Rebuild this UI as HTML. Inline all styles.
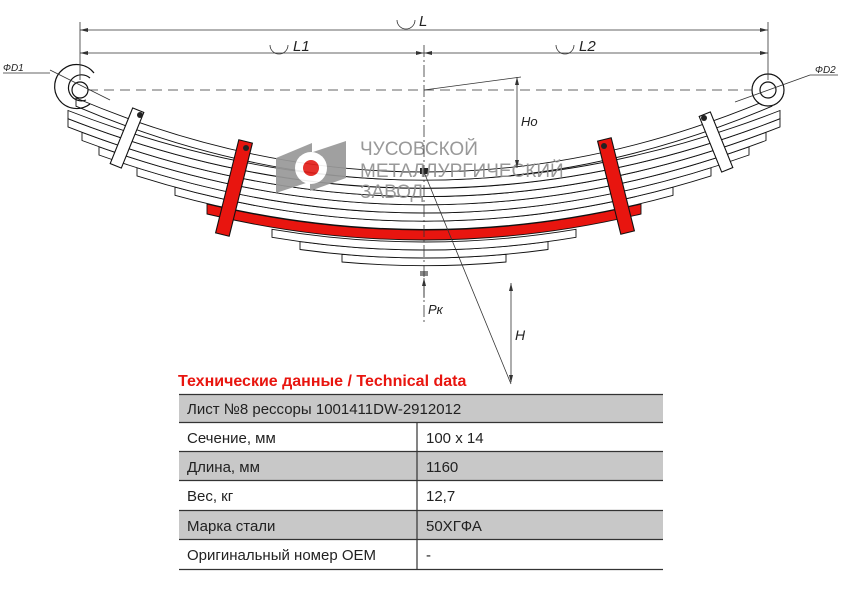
<!DOCTYPE html>
<html><head><meta charset="utf-8"><style>
html,body{margin:0;padding:0;background:#fff;width:842px;height:595px;overflow:hidden}
svg{position:absolute;left:0;top:0}
</style></head><body>
<svg width="842" height="595" viewBox="0 0 842 595" xmlns="http://www.w3.org/2000/svg" font-family="Liberation Sans, sans-serif">
<!-- leaves -->
<g stroke="#111" stroke-width="0.9" fill="#fff">
<path d="M342 254.3 Q424 261.7 506 254.3 L506 262 Q424 269.4 342 262Z"/>
<path d="M300 241.5 Q424 258.5 548 241.5 L548 249.5 Q424 266.5 300 249.5Z"/>
<path d="M272 229.3 Q424 254.7 576 229.3 L576 237.3 Q424 262.7 272 237.3Z"/>
<path d="M207 204 Q424 256 641 204 L641 214 Q424 266 207 214Z" fill="#e8150f"/>
<path d="M175 187.1 Q424 255.3 673 187.1 L673 195.3 Q424 263.5 175 195.3Z"/>
<path d="M137 167.7 Q424 258.3 711 167.7 L711 175.9 Q424 266.5 137 175.9Z"/>
<path d="M99 146.8 Q424 262.8 749 146.8 L749 155 Q424 271 99 155Z"/>
<path d="M82 132.3 Q424 260.9 766 132.3 L766 140.5 Q424 269.1 82 140.5Z"/>
<path d="M68 118.7 Q424 258.1 780 118.7 L780 126.9 Q424 266.3 68 126.9Z"/>
<path d="M68 110.5 Q424 249.5 780 110.5 L780 118.7 Q424 257.7 68 118.7Z"/>
<path d="M76 98 Q424 246 772 98 L772 106.2 Q424 254.2 76 106.2Z"/>
</g>
<!-- eyes -->
<g stroke="#111" stroke-width="1.2" fill="none">
<path d="M90 104 A22 22 0 1 1 94 73"/>
<path d="M86 100 A13 13 0 1 1 90 78"/>
<circle cx="80" cy="90" r="8"/>
<circle cx="768" cy="90" r="16" fill="#fff"/>
<circle cx="768" cy="90" r="8"/>
</g>
<!-- clamps -->
<g stroke="#111" stroke-width="1.1">
<rect x="-7" y="-48" width="14" height="96" fill="#e8150f" transform="translate(234,188) rotate(14)"/>
<rect x="-7" y="-48" width="14" height="96" fill="#e8150f" transform="translate(616,186) rotate(-14)"/>
<rect x="-6" y="-30" width="12" height="60" fill="#fff" transform="translate(127,138) rotate(22)"/>
<rect x="-6" y="-30" width="12" height="60" fill="#fff" transform="translate(716,142) rotate(-22)"/>
</g>
<g fill="#222"><circle cx="246" cy="148" r="3"/><circle cx="604" cy="146" r="3"/><circle cx="140" cy="115" r="3"/><circle cx="704" cy="118" r="3"/><rect x="420" y="168" width="8" height="6"/><rect x="420" y="271" width="8" height="5" fill="#888"/></g>
<!-- logo -->
<g opacity="0.92">
<polygon points="276,158 312,143 312,181 276,193" fill="#999"/>
<polygon points="310,153 346,141 346,178 310,191" fill="#999"/>
<circle cx="311" cy="168" r="16" fill="#fff"/>
<circle cx="311" cy="168" r="8" fill="#e3201b"/>
</g>
<g fill="#8f8f8f" font-size="19" opacity="0.9">
<text x="360" y="155">ЧУСОВСКОЙ</text>
<text x="360" y="177">МЕТАЛЛУРГИЧЕСКИЙ</text>
<text x="360" y="198">ЗАВОД</text>
</g>
<!-- dimension lines -->
<g stroke="#333" stroke-width="0.8" fill="none">
<line x1="80" y1="22" x2="80" y2="80"/>
<line x1="768" y1="22" x2="768" y2="80"/>
<line x1="80" y1="30" x2="768" y2="30"/>
<line x1="80" y1="53" x2="424" y2="53"/>
<line x1="424" y1="53" x2="768" y2="53"/>
<line x1="88" y1="90" x2="752" y2="90" stroke-dasharray="10,6"/>
<line x1="424" y1="45" x2="424" y2="325" stroke-dasharray="12,3,2,3"/>
<line x1="424" y1="90" x2="521" y2="77"/>
<line x1="517" y1="77" x2="517" y2="168"/>
<line x1="424" y1="172" x2="511" y2="384"/>
<line x1="511" y1="283" x2="511" y2="382"/>
<line x1="50" y1="70" x2="110" y2="100"/>
<line x1="3" y1="73" x2="50" y2="73"/>
<line x1="735" y1="102" x2="810" y2="75"/>
<line x1="810" y1="75" x2="838" y2="75"/>
<line x1="424" y1="278" x2="424" y2="298"/>
<path d="M397 20 A9 9 0 0 0 415 20"/>
<path d="M270 45 A9 9 0 0 0 288 45"/>
<path d="M556 45 A9 9 0 0 0 574 45"/>
</g>
<g fill="#333">
<path d="M80 30 l8 -2 v4z"/><path d="M768 30 l-8 -2 v4z"/>
<path d="M80 53 l8 -2 v4z"/><path d="M424 53 l-8 -2 v4z"/><path d="M424 53 l8 -2 v4z"/><path d="M768 53 l-8 -2 v4z"/>
<path d="M517 168 l-2 -8 h4z"/><path d="M517 77 l-2 8 h4z"/>
<path d="M511 283 l-2 8 h4z"/><path d="M511 383 l-2 -8 h4z"/>
<path d="M424 278 l-2 8 h4z"/>
</g>
<g font-style="italic" font-size="15" fill="#222">
<text x="419" y="26">L</text>
<text x="293" y="51">L1</text>
<text x="579" y="51">L2</text>
<text x="521" y="126" font-size="13">Ho</text>
<text x="515" y="340" font-size="14">H</text>
<text x="428" y="314" font-size="13">Pк</text>
<text x="3" y="71" font-size="10">ФD1</text>
<text x="815" y="73" font-size="10">ФD2</text>
</g>
<!-- table -->
<text x="178" y="386" font-size="16" font-weight="bold" fill="#e8150f">Технические данные / Technical data</text>
<g fill="#c8c8c8">
<rect x="179" y="395" width="484" height="28"/>
<rect x="179" y="452" width="484" height="28"/>
<rect x="179" y="511" width="484" height="28"/>
</g>
<g stroke="#333" stroke-width="1.2">
<line x1="179" y1="394.5" x2="663" y2="394.5"/>
<line x1="179" y1="422.5" x2="663" y2="422.5"/>
<line x1="179" y1="451.5" x2="663" y2="451.5"/>
<line x1="179" y1="480.5" x2="663" y2="480.5"/>
<line x1="179" y1="510.5" x2="663" y2="510.5"/>
<line x1="179" y1="539.5" x2="663" y2="539.5"/>
<line x1="179" y1="569.5" x2="663" y2="569.5"/>
<line x1="417" y1="422" x2="417" y2="570"/>
</g>
<g font-size="15" fill="#222">
<text x="187" y="414">Лист №8 рессоры 1001411DW-2912012</text>
<text x="187" y="443">Сечение, мм</text><text x="426" y="443">100 x 14</text>
<text x="187" y="472">Длина, мм</text><text x="426" y="472">1160</text>
<text x="187" y="501">Вес, кг</text><text x="426" y="501">12,7</text>
<text x="187" y="531">Марка стали</text><text x="426" y="531">50ХГФА</text>
<text x="187" y="560">Оригинальный номер OEM</text><text x="426" y="560">-</text>
</g>
</svg>
</body></html>
